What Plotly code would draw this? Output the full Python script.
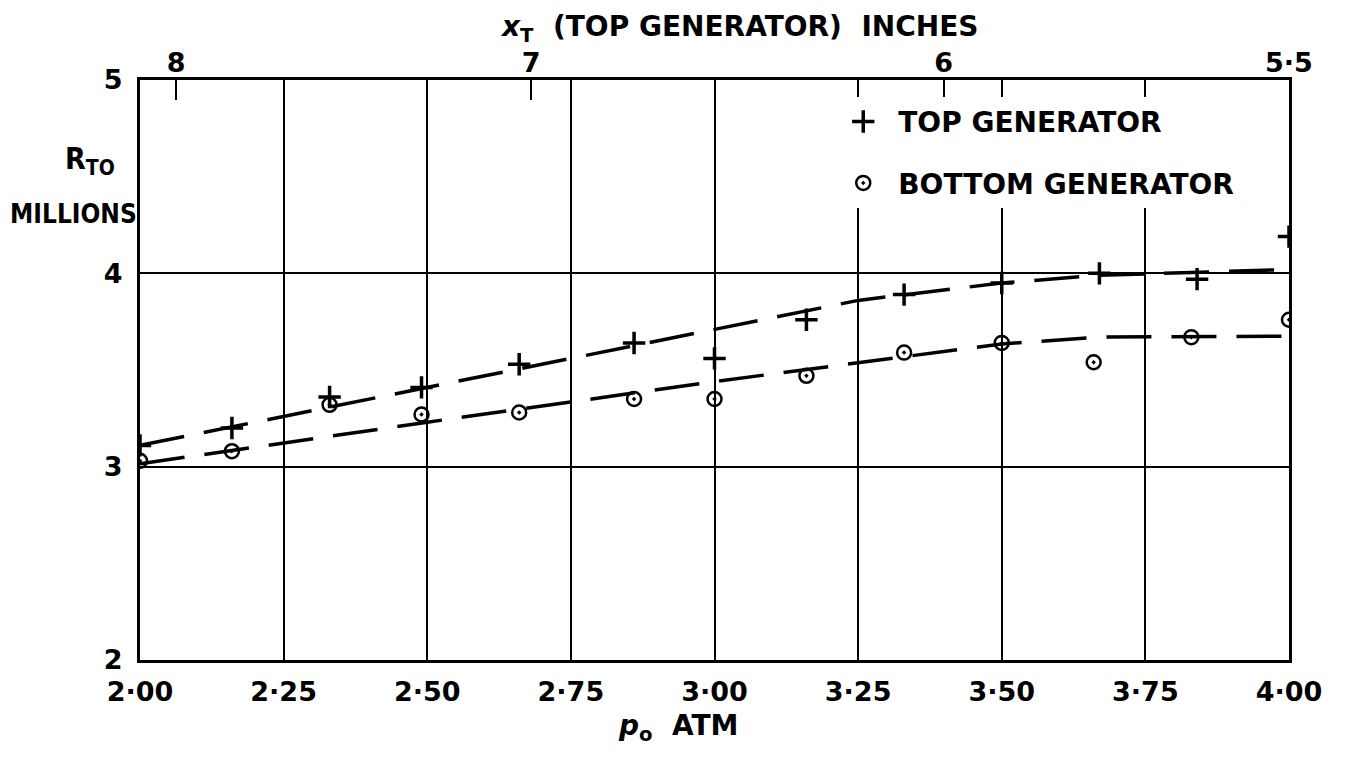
import plotly.graph_objects as go

# ---- data ----
p_top = [2.00, 2.16, 2.33, 2.49, 2.66, 2.86, 3.00, 3.16, 3.33, 3.50, 3.67, 3.84, 4.00]
r_top = [3.11, 3.20, 3.36, 3.41, 3.53, 3.64, 3.56, 3.76, 3.89, 3.95, 4.00, 3.97, 4.19]

p_bot = [2.00, 2.16, 2.33, 2.49, 2.66, 2.86, 3.00, 3.16, 3.33, 3.50, 3.66, 3.83, 4.00]
r_bot = [3.03, 3.08, 3.32, 3.27, 3.28, 3.35, 3.35, 3.47, 3.59, 3.64, 3.54, 3.67, 3.76]

# faired (dashed) curves
p_fit_top = [2.00, 2.50, 3.00, 3.25, 3.50, 3.67, 4.00]
r_fit_top = [3.11, 3.41, 3.71, 3.86, 3.95, 3.99, 4.02]
p_fit_bot = [2.00, 2.50, 3.00, 3.50, 3.67, 4.00]
r_fit_bot = [3.015, 3.23, 3.44, 3.635, 3.67, 3.675]

# axes
x_ticks = [2.00, 2.25, 2.50, 2.75, 3.00, 3.25, 3.50, 3.75, 4.00]
x_ticklabels = ["2·00", "2·25", "2·50", "2·75", "3·00", "3·25", "3·50", "3·75", "4·00"]
y_ticks = [2, 3, 4, 5]
y_ticklabels = ["2", "3", "4", "5"]
# top axis: x_T (inches) shown at corresponding p_o positions
top_tick_pos = [2.063, 2.681, 3.399, 4.00]
top_tick_labels = ["8", "7", "6", "5·5"]

FONT = "DejaVu Sans"
FONT_C = "DejaVu Sans Condensed"
BLACK = "#000000"

fig = go.Figure()

fig.add_trace(go.Scatter(x=p_fit_top, y=r_fit_top, mode="lines", showlegend=False,
                         line=dict(color=BLACK, width=3.5, dash="45px,20px"), hoverinfo="skip"))
fig.add_trace(go.Scatter(x=p_fit_bot, y=r_fit_bot, mode="lines", showlegend=False,
                         line=dict(color=BLACK, width=3.5, dash="45px,20px"), hoverinfo="skip"))

fig.add_trace(go.Scatter(x=p_top, y=r_top, mode="markers", name="TOP GENERATOR",
                         legendgroup="top",
                         marker=dict(symbol="cross-thin", size=16, color=BLACK,
                                     line=dict(color=BLACK, width=3.5))))
fig.add_trace(go.Scatter(x=p_bot, y=r_bot, mode="markers", name="BOTTOM GENERATOR",
                         legendgroup="bot",
                         marker=dict(symbol="circle-open-dot", size=14, color=BLACK,
                                     line=dict(color=BLACK, width=2.5))))

# invisible trace on the top axis so it is drawn
fig.add_trace(go.Scatter(x=[2, 4], y=[2, 2], xaxis="x2", mode="markers",
                         marker=dict(opacity=0), showlegend=False, hoverinfo="skip"))

tickfont = dict(family=FONT, size=27, color=BLACK, weight="bold")

fig.update_layout(
    width=1348, height=760,
    margin=dict(l=140, r=59, t=80, b=100),
    paper_bgcolor="white", plot_bgcolor="white",
    font=dict(family=FONT, color=BLACK),
    xaxis=dict(range=[2, 4], tickvals=x_ticks, ticktext=x_ticklabels, tickfont=tickfont,
               showgrid=True, gridcolor=BLACK, gridwidth=2, zeroline=False,
               showline=True, linecolor=BLACK, linewidth=3, mirror=True,
               ticks="", ticklabelstandoff=6),
    xaxis2=dict(range=[2, 4], overlaying="x", side="top", anchor="y",
                tickvals=top_tick_pos, ticktext=top_tick_labels, tickfont=tickfont,
                showgrid=False, zeroline=False, showline=False,
                ticks="inside", ticklen=20, tickwidth=2, tickcolor=BLACK,
                ticklabelstandoff=2),
    yaxis=dict(range=[2, 5], tickvals=y_ticks, ticktext=y_ticklabels, tickfont=tickfont,
               showgrid=True, gridcolor=BLACK, gridwidth=2, zeroline=False,
               showline=True, linecolor=BLACK, linewidth=3, mirror=True,
               ticks="", ticklabelstandoff=9),
    legend=dict(x=0.599, y=0.971, xanchor="left", yanchor="top",
                bgcolor="white", borderwidth=0,
                font=dict(family=FONT, size=28, color=BLACK, weight="bold"),
                tracegroupgap=22, itemwidth=60, traceorder="grouped"),
    showlegend=True,
)

ann_font = dict(family=FONT, size=28, color=BLACK, weight="bold")
fig.add_annotation(text="<i>x</i><sub>T</sub>  (TOP GENERATOR)  INCHES", xref="paper", yref="paper",
                   x=0.522, y=1.088, xanchor="center", yanchor="middle", showarrow=False,
                   font=ann_font)
fig.add_annotation(text="<i>p</i><sub>o</sub>  ATM", xref="paper", yref="paper",
                   x=0.468, y=-0.117, xanchor="center", yanchor="middle", showarrow=False,
                   font=ann_font)
fig.add_annotation(text="R<sub>TO</sub>", xref="paper", yref="paper",
                   x=-0.0435, y=0.862, xanchor="center", yanchor="middle", showarrow=False,
                   font=dict(family=FONT_C, size=30, color=BLACK, weight="bold"))
fig.add_annotation(text="MILLIONS", xref="paper", yref="paper",
                   x=-0.0583, y=0.769, xanchor="center", yanchor="middle", showarrow=False,
                   font=dict(family=FONT_C, size=26, color=BLACK, weight="bold"))

fig.write_html("out.html")
